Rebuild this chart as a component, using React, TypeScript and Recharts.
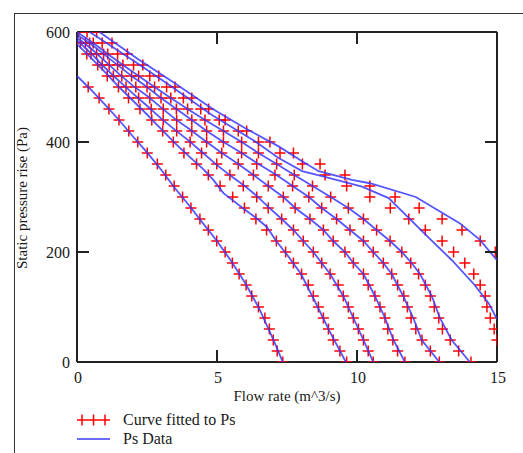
import { ScatterChart, Scatter, XAxis, YAxis } from "recharts";

// pressure levels the fitted curves were evaluated at (Pa)
const PS_LEVELS = [
  600, 580, 560, 540, 520, 500, 480, 460, 440, 420, 400, 380, 360, 340, 320, 300,
  280, 260, 240, 220, 200, 180, 160, 140, 120, 100, 80, 60, 40, 20, 0,
];

// flow rate of each fitted curve at the levels above (null = off the plot)
const FIT_1 = [null, null, null, null, null, 0.4, 0.79, 1.14, 1.5, 1.85, 2.17, 2.51, 2.87, 3.17, 3.47, 3.77, 4.07, 4.39, 4.69, 4.99, 5.29, 5.55, 5.79, 6.04, 6.24, 6.48, 6.71, 6.87, 7.01, 7.15, 7.35];
const FIT_2 = [null, null, 0.35, 0.74, 1.08, 1.48, 1.84, 2.25, 2.67, 3.06, 3.44, 3.82, 4.27, 4.69, 5.11, 5.56, 5.98, 6.39, 6.77, 7.12, 7.45, 7.73, 8.02, 8.26, 8.44, 8.62, 8.8, 8.98, 9.15, 9.39, 9.63];
const FIT_3 = [null, 0.12, 0.5, 0.9, 1.3, 1.75, 2.2, 2.65, 3.08, 3.56, 4.04, 4.45, 4.99, 5.46, 5.94, 6.42, 6.83, 7.31, 7.73, 8.08, 8.44, 8.74, 9.04, 9.33, 9.51, 9.69, 9.87, 10.05, 10.23, 10.4, 10.58];
const FIT_4 = [null, 0.3, 0.7, 1.15, 1.6, 2.1, 2.6, 3.08, 3.56, 4.1, 4.63, 5.17, 5.76, 6.3, 6.83, 7.37, 7.79, 8.32, 8.8, 9.15, 9.57, 9.87, 10.23, 10.4, 10.64, 10.82, 11.0, 11.1, 11.28, 11.45, 11.71];
const FIT_5 = [null, 0.45, 0.95, 1.45, 1.95, 2.5, 3.0, 3.55, 4.1, 4.63, 5.23, 5.88, 6.42, 7.07, 7.7, 8.28, 8.74, 9.27, 9.75, 10.23, 10.58, 10.94, 11.24, 11.45, 11.67, 11.8, 11.93, 12.1, 12.32, 12.62, 12.94];
const FIT_6 = [0.06, 0.58, 1.1, 1.64, 2.2, 2.77, 3.35, 3.95, 4.57, 5.23, 5.88, 6.48, 7.13, 7.76, 8.41, 9.06, 9.69, 10.23, 10.7, 11.18, 11.6, 11.92, 12.2, 12.44, 12.62, 12.76, 12.92, 13.05, 13.33, 13.63, 14.07];
const FIT_7 = [0.36, 0.9, 1.45, 2.02, 2.6, 3.2, 3.8, 4.42, 5.08, 5.76, 6.48, 7.25, 8.05, 8.86, 9.63, 10.46, 11.19, 11.85, 12.44, 13.04, 13.45, 13.85, 14.17, 14.4, 14.58, 14.64, 14.76, 14.9, 15.0, null, null];
const FIT_8 = [0.7, 1.25, 1.8, 2.35, 2.92, 3.5, 4.1, 4.7, 5.29, 6.06, 6.89, 7.73, 8.68, 9.57, 10.46, 11.36, 12.22, 13.04, 13.75, 14.4, 14.94, null, null, null, null, null, null, null, null, null, null];

// measured Ps data, [flow, pressure]
const DATA_1 = [[0, 520], [0.5, 495], [1, 468], [1.5, 440], [2, 410], [2.5, 381], [3, 350], [3.5, 316], [4, 285], [4.5, 252], [5, 220], [5.5, 184], [6, 144], [6.5, 98], [7, 42], [7.35, 0]];
const DATA_2 = [[0, 578], [0.5, 553], [1, 527], [1.5, 500], [2, 475], [2.5, 450], [3, 424], [3.5, 398], [4, 374], [4.5, 351], [4.87, 331], [5.23, 307], [5.46, 298], [5.94, 279], [6.42, 261], [6.77, 246], [7.13, 219], [7.49, 196], [8, 160], [8.5, 110], [9, 58], [9.6, 0]];
const DATA_3 = [[0, 585], [0.5, 561], [1, 535], [1.5, 511], [2, 488], [2.5, 466], [3, 443], [3.5, 422], [4, 402], [4.5, 380], [5, 358], [5.5, 338], [5.94, 322], [6.42, 302], [6.83, 282], [7.31, 260], [7.73, 240], [8.08, 220], [8.44, 200], [8.74, 180], [9.04, 160], [9.51, 120], [9.87, 80], [10.23, 40], [10.58, 0]];
const DATA_4 = [[0, 590], [0.5, 570], [1, 547], [1.5, 524], [2, 502], [2.5, 484], [3, 463], [3.5, 442], [4, 424], [4.63, 400], [5.17, 380], [5.76, 360], [6.3, 340], [6.83, 320], [7.37, 300], [7.79, 280], [8.32, 260], [8.8, 240], [9.15, 220], [9.57, 200], [9.87, 180], [10.23, 160], [10.64, 120], [11.0, 80], [11.3, 40], [11.71, 0]];
const DATA_5 = [[0, 595], [0.5, 578], [1, 558], [1.5, 538], [2, 518], [2.5, 500], [3, 480], [3.5, 462], [4.1, 440], [4.63, 420], [5.23, 400], [5.88, 380], [6.42, 362], [7.07, 342], [7.7, 320], [8.28, 300], [8.74, 280], [9.27, 260], [9.75, 240], [10.23, 220], [10.58, 200], [10.94, 180], [11.24, 160], [11.65, 120], [12.01, 80], [12.31, 40], [12.94, 0]];
const DATA_6 = [[0, 600], [0.58, 580], [1.1, 560], [1.64, 540], [2.2, 520], [2.77, 500], [3.35, 480], [3.95, 460], [4.57, 440], [5.23, 420], [5.88, 400], [6.48, 380], [7.13, 360], [7.76, 340], [8.41, 320], [9.06, 300], [9.69, 280], [10.23, 260], [10.7, 240], [11.18, 220], [11.6, 200], [11.95, 180], [12.25, 160], [12.67, 120], [12.96, 80], [13.38, 40], [14.03, 0]];
const DATA_7 = [[0.45, 600], [1, 582], [2.1, 545], [3.4, 500], [4.82, 449], [6.37, 401], [7.2, 371], [8.04, 347], [8.75, 338], [10.18, 319], [11.13, 298], [12.44, 232], [13.39, 185], [14.2, 140], [14.7, 107], [15, 78]];
const DATA_8 = [[0.8, 600], [2.2, 550], [3.4, 510], [4.82, 461], [6.01, 425], [7.2, 392], [8.04, 365], [8.63, 347], [9.82, 331], [10.46, 325], [12.1, 300], [13.68, 252], [14.39, 222], [15, 185]];

const X_TICKS = [0, 5, 10, 15];
const Y_TICKS = [0, 200, 400, 600];

const FITS = [FIT_1, FIT_2, FIT_3, FIT_4, FIT_5, FIT_6, FIT_7, FIT_8];
const DATAS = [DATA_1, DATA_2, DATA_3, DATA_4, DATA_5, DATA_6, DATA_7, DATA_8];

const RED = "#ff0000";
const BLUE = "#3838ff";
const FRAME = "#222";
const TEXT = "#1a1a1a";
const FONT = '"Liberation Serif", "Times New Roman", serif';

const W = 523;
const H = 453;
const MARGIN = { top: 31, right: 25, bottom: 61, left: 17 };

const fitPoints = (xs: (number | null)[]) =>
  xs
    .map((x, i) => ({ x, y: PS_LEVELS[i] }))
    .filter((p) => p.x !== null);

const dataPoints = (rows: number[][]) => rows.map(([x, y]) => ({ x, y }));

function Plus({ cx, cy }: any) {
  return (
    <g stroke={RED} strokeWidth={1.5}>
      <line x1={cx - 5.5} x2={cx + 5.5} y1={cy} y2={cy} />
      <line x1={cx} x2={cx} y1={cy - 5.5} y2={cy + 5.5} />
    </g>
  );
}

const NoDot = () => <g />;

function BottomTick({ x, y, payload }: any) {
  const v = payload.value;
  return (
    <g>
      {v > 0 && v < 15 && (
        <line x1={x} x2={x} y1={y} y2={y - 12} stroke={FRAME} strokeWidth={2} />
      )}
      <text x={x + 1} y={y + 21} textAnchor="middle" fontSize={16} fontFamily={FONT} fill={TEXT}>
        {v}
      </text>
    </g>
  );
}

function TopTick({ x, y, payload }: any) {
  const v = payload.value;
  if (v <= 0 || v >= 15) return <g />;
  return <line x1={x} x2={x} y1={y} y2={y + 12} stroke={FRAME} strokeWidth={2} />;
}

function LeftTick({ x, y, payload }: any) {
  const v = payload.value;
  return (
    <g>
      {v > 0 && v < 600 && (
        <line x1={x} x2={x + 12} y1={y} y2={y} stroke={FRAME} strokeWidth={2} />
      )}
      <text x={x - 7} y={y + 6} textAnchor="end" fontSize={16} fontFamily={FONT} fill={TEXT}>
        {v}
      </text>
    </g>
  );
}

function RightTick({ x, y, payload }: any) {
  const v = payload.value;
  if (v <= 0 || v >= 600) return <g />;
  return <line x1={x} x2={x - 12} y1={y} y2={y} stroke={FRAME} strokeWidth={2} />;
}

// x title + legend underneath the plot
function BottomLabel() {
  const left = MARGIN.left + 60;
  const right = W - MARGIN.right - 1;
  const cx = (left + right) / 2;
  return (
    <g fontFamily={FONT} fill={TEXT}>
      <text x={cx} y={401} textAnchor="middle" fontSize={15}>
        Flow rate (m^3/s)
      </text>
      <g stroke={RED} strokeWidth={1.5}>
        <line x1={left} x2={left + 33} y1={420} y2={420} />
        <line x1={left + 5} x2={left + 5} y1={414.5} y2={425.5} />
        <line x1={left + 16.5} x2={left + 16.5} y1={414.5} y2={425.5} />
        <line x1={left + 28} x2={left + 28} y1={414.5} y2={425.5} />
      </g>
      <text x={left + 46} y={425} fontSize={16}>
        Curve fitted to Ps
      </text>
      <line x1={left} x2={left + 33} y1={439} y2={439} stroke={BLUE} strokeWidth={1.7} />
      <text x={left + 46} y={444} fontSize={16}>
        Ps Data
      </text>
    </g>
  );
}

function LeftLabel() {
  const top = MARGIN.top + 1;
  const bottom = H - MARGIN.bottom - 30;
  return (
    <text
      transform={`translate(27, ${(top + bottom) / 2 + 1}) rotate(-90)`}
      textAnchor="middle"
      fontSize={15}
      fontFamily={FONT}
      fill={TEXT}
    >
      Static pressure rise (Pa)
    </text>
  );
}

export default function App() {
  return (
    <div style={{ position: "absolute", left: 0, top: 0, width: W, height: H, background: "#fff" }}>
      <div
        style={{
          position: "absolute",
          left: 14,
          top: 13,
          right: 0,
          bottom: 0,
          borderTop: "1.5px solid #333",
          borderLeft: "1.5px solid #333",
        }}
      />
      <ScatterChart width={W} height={H} margin={MARGIN} style={{ position: "absolute", left: 0, top: 0 }}>
        <XAxis
          type="number"
          dataKey="x"
          domain={[0, 15]}
          ticks={X_TICKS}
          interval={0}
          allowDataOverflow
          height={30}
          tickSize={0}
          tickMargin={0}
          tick={<BottomTick />}
          axisLine={{ stroke: FRAME, strokeWidth: 2 }}
          label={<BottomLabel />}
        />
        <XAxis
          xAxisId="top"
          orientation="top"
          type="number"
          dataKey="x"
          domain={[0, 15]}
          ticks={X_TICKS}
          interval={0}
          allowDataOverflow
          height={1}
          tickSize={0}
          tickMargin={0}
          tick={<TopTick />}
          axisLine={{ stroke: FRAME, strokeWidth: 2 }}
        />
        <YAxis
          type="number"
          dataKey="y"
          domain={[0, 600]}
          ticks={Y_TICKS}
          interval={0}
          allowDataOverflow
          width={60}
          tickSize={0}
          tickMargin={0}
          tick={<LeftTick />}
          axisLine={{ stroke: FRAME, strokeWidth: 2 }}
          label={<LeftLabel />}
        />
        <YAxis
          yAxisId="right"
          orientation="right"
          type="number"
          dataKey="y"
          domain={[0, 600]}
          ticks={Y_TICKS}
          interval={0}
          allowDataOverflow
          width={1}
          tickSize={0}
          tickMargin={0}
          tick={<RightTick />}
          axisLine={{ stroke: FRAME, strokeWidth: 2 }}
        />

        {FITS.map((f, i) => (
          <Scatter
            key={`fit-${i}`}
            name="Curve fitted to Ps"
            data={fitPoints(f)}
            shape={<Plus />}
            isAnimationActive={false}
          />
        ))}

        {DATAS.map((d, i) => (
          <Scatter
            key={`data-${i}`}
            name="Ps Data"
            data={dataPoints(d)}
            line={{ stroke: BLUE, strokeWidth: 1.8, strokeOpacity: 0.85 }}
            lineType="joint"
            shape={<NoDot />}
            isAnimationActive={false}
          />
        ))}
      </ScatterChart>
    </div>
  );
}
